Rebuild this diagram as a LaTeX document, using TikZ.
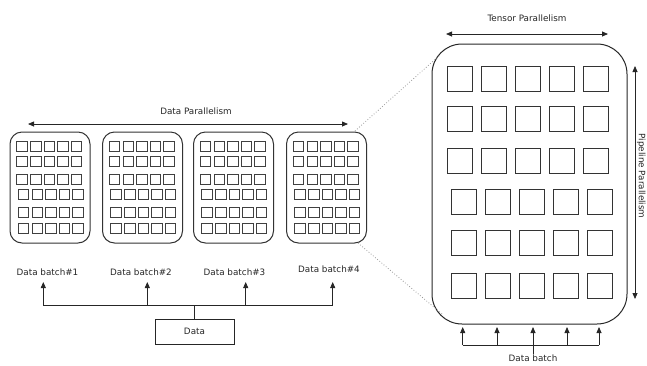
\documentclass[tikz,border=0pt]{standalone}
\usepackage{fontspec}
\setmainfont{DejaVu Sans}
\usetikzlibrary{arrows.meta,calc}

\begin{document}
\begin{tikzpicture}[x=1pt,y=-1pt,
  every node/.style={font=\fontsize{8.8}{10}\selectfont, inner sep=0pt, text=black!85},
  gpu/.style={draw=black!80, line width=1pt, rounded corners=12pt,
              minimum width=80pt, minimum height=111pt},
  cell/.style={draw=black!75, line width=0.8pt, minimum width=10.5pt, minimum height=10pt},
  bigcell/.style={draw=black!80, line width=0.9pt, minimum size=25pt},
  arr/.style={-{Triangle[length=6pt,width=5pt]}, line width=0.8pt, draw=black!85},
  dual/.style={{Triangle[length=6pt,width=5pt]}-{Triangle[length=6pt,width=5pt]},
               line width=0.8pt, draw=black!85},
  wire/.style={line width=0.8pt, draw=black!85},
  zoomline/.style={draw=black!40, dotted, line width=0.8pt}
]
\useasboundingbox (0,0) rectangle (647,365);

% ---- data parallel replicas ----
\foreach \i/\x in {1/50,2/142.5,3/233.5,4/326.5}{
  \node[gpu] (g\i) at (\x,187.5) {};
  \foreach \r/\y/\s in {1/146/-0.7,2/161/-0.7,3/179/-0.7,4/194/0.8,5/212/0.8,6/228/0.8}{
    \foreach \c/\dx in {1/-27.2,2/-13.6,3/0,4/13.6,5/27.2}{
      \node[cell] (g\i-\r-\c) at (\x+\dx+\s,\y) {};
    }
  }
}

% data parallelism arrow
\coordinate (dpL) at (28,124);
\coordinate (dpR) at (348,124);
\draw[dual] (dpL) -- (dpR);
\node (dplabel) at (196,111) {Data Parallelism};

% batch labels and feed lines
\node (b1) at (47.5,272) {Data batch\#1};
\node (b2) at (141,272) {Data batch\#2};
\node (b3) at (234.5,272) {Data batch\#3};
\node (b4) at (329,269) {Data batch\#4};
\node[draw=black!85, line width=0.8pt, minimum width=79pt, minimum height=25pt]
  (data) at (194.5,331.5) {Data};

\foreach \i/\x in {1/43.3,2/147.3,3/245.7,4/332.7}{
  \coordinate (f\i) at (\x,305);
  \draw[arr] (f\i) -- ++(0,-23);
}
\draw[wire] (f1) -- (f4);
\draw[wire] (data.north) -- (data.north |- f1);

% ---- zoomed device ----
\node[draw=black!85, line width=1pt, rounded corners=30pt,
      minimum width=195pt, minimum height=280pt] (tp) at (529.5,184) {};

\foreach \r/\y/\s in {1/78.5/0,2/118.5/0,3/161/0,4/202/3.5,5/243/3.5,6/285.5/3.5}{
  \foreach \c/\x in {1/460,2/494,3/528.3,4/562,5/596}{
    \node[bigcell] (t-\r-\c) at (\x+\s,\y) {};
  }
}

% magnification lines
\coordinate (zA) at (355,131);
\coordinate (zB) at (440,55);
\coordinate (zC) at (358,243);
\coordinate (zD) at (442,314);
\draw[zoomline] (zA) -- (zB);
\draw[zoomline] (zC) -- (zD);

% tensor parallelism
\coordinate (tpL) at (446,34);
\coordinate (tpR) at (608,34);
\draw[dual] (tpL) -- (tpR);
\node (tplabel) at (527,18) {Tensor Parallelism};

% pipeline parallelism
\coordinate (ppT) at (635,66);
\coordinate (ppB) at (635,299);
\draw[dual] (ppT) -- (ppB);
\node[rotate=-90] (pplabel) at (641.2,176) {Pipeline Parallelism};

% data batch feed
\node (db) at (533,358) {Data batch};
\foreach \i/\x in {1/462.7,2/497,3/533,4/567,5/599}{
  \coordinate (d\i) at (\x,345);
  \draw[arr] (d\i) -- ++(0,-18);
}
\draw[wire] (d1) -- (d5);
\draw[wire] (db.north) -- (db.north |- d3);
\end{tikzpicture}
\end{document}
